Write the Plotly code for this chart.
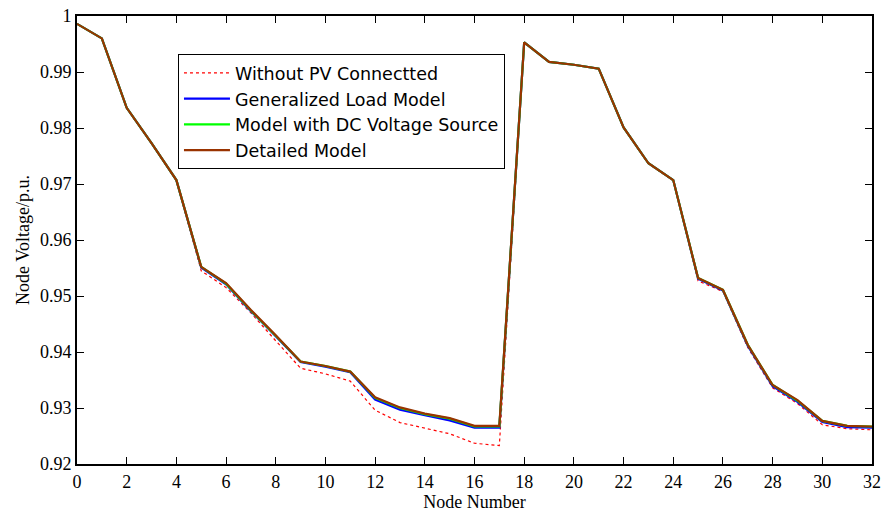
import plotly.graph_objects as go

nodes = list(range(33))

without_pv = [0.9986, 0.9960, 0.9835, 0.9772, 0.9706, 0.9545, 0.9515, 0.9470, 0.9420, 0.9371,
              0.9361, 0.9348, 0.9296, 0.9274, 0.9264, 0.9254, 0.9237, 0.9233, 0.9953, 0.9918,
              0.9913, 0.9906, 0.9800, 0.9736, 0.9706, 0.9527, 0.9508, 0.9408, 0.9336, 0.9308,
              0.9270, 0.9263, 0.9261]
generalized = [0.9986, 0.9960, 0.9836, 0.9773, 0.9707, 0.9551, 0.9521, 0.9473, 0.9428, 0.9382,
               0.9374, 0.9364, 0.9315, 0.9297, 0.9287, 0.9278, 0.9265, 0.9265, 0.9953, 0.9918,
               0.9913, 0.9906, 0.9801, 0.9737, 0.9707, 0.9531, 0.9510, 0.9411, 0.9339, 0.9311,
               0.9275, 0.9266, 0.9265]
dc_source = [0.9986, 0.9960, 0.9836, 0.9773, 0.9707, 0.9552, 0.9522, 0.9474, 0.9429, 0.9383,
             0.9375, 0.9365, 0.9318, 0.9300, 0.9289, 0.9281, 0.9267, 0.9267, 0.9953, 0.9918,
             0.9913, 0.9906, 0.9801, 0.9737, 0.9707, 0.9532, 0.9511, 0.9413, 0.9341, 0.9313,
             0.9277, 0.9268, 0.9267]
detailed = [0.9986, 0.9960, 0.9836, 0.9773, 0.9707, 0.9552, 0.9523, 0.9475, 0.9430, 0.9383,
            0.9375, 0.9365, 0.9319, 0.9301, 0.9290, 0.9282, 0.9268, 0.9268, 0.9953, 0.9918,
            0.9913, 0.9906, 0.9801, 0.9737, 0.9707, 0.9532, 0.9511, 0.9413, 0.9341, 0.9314,
            0.9277, 0.9268, 0.9267]

x_ticks = list(range(0, 33, 2))
y_ticks = [0.92, 0.93, 0.94, 0.95, 0.96, 0.97, 0.98, 0.99, 1.0]
y_labels = ["0.92", "0.93", "0.94", "0.95", "0.96", "0.97", "0.98", "0.99", "1"]

fig = go.Figure()
fig.add_trace(go.Scatter(x=nodes, y=without_pv, mode="lines", name="Without PV Connectted",
                         line=dict(color="#ff0000", width=1.2, dash="dot")))
fig.add_trace(go.Scatter(x=nodes, y=generalized, mode="lines", name="Generalized Load Model",
                         line=dict(color="#0000ff", width=2.2)))
fig.add_trace(go.Scatter(x=nodes, y=dc_source, mode="lines", name="Model with DC Voltage Source",
                         line=dict(color="#00ff00", width=2.2)))
fig.add_trace(go.Scatter(x=nodes, y=detailed, mode="lines", name="Detailed Model",
                         line=dict(color="#993300", width=2.2)))

axis_font = dict(family="Liberation Serif, Times New Roman, serif", size=18, color="black")

fig.update_layout(
    width=891, height=512,
    margin=dict(l=77, r=19, t=16, b=48),
    paper_bgcolor="white", plot_bgcolor="white",
    showlegend=True,
    legend=dict(x=0.127, y=0.915, xanchor="left", yanchor="top",
                bordercolor="black", borderwidth=1, bgcolor="white",
                font=dict(family="DejaVu Sans, sans-serif", size=17.5, color="black"),
                tracegroupgap=0, itemwidth=46),
    xaxis=dict(range=[0, 32], tickvals=x_ticks, ticktext=[str(v) for v in x_ticks],
               ticks="inside", ticklen=7, tickwidth=1, tickcolor="black",
               showline=True, linecolor="black", linewidth=2, mirror="ticks",
               showgrid=False, zeroline=False, tickfont=axis_font, automargin=False,
               title=dict(text="Node Number", font=axis_font, standoff=4)),
    yaxis=dict(range=[0.92, 1.0], tickvals=y_ticks, ticktext=y_labels,
               ticks="inside", ticklen=7, tickwidth=1, tickcolor="black",
               showline=True, linecolor="black", linewidth=2, mirror="ticks",
               showgrid=False, zeroline=False, tickfont=axis_font, automargin=False,
               title=dict(text="Node Voltage/p.u.", font=axis_font, standoff=6)),
)

fig.write_html("out.html")
